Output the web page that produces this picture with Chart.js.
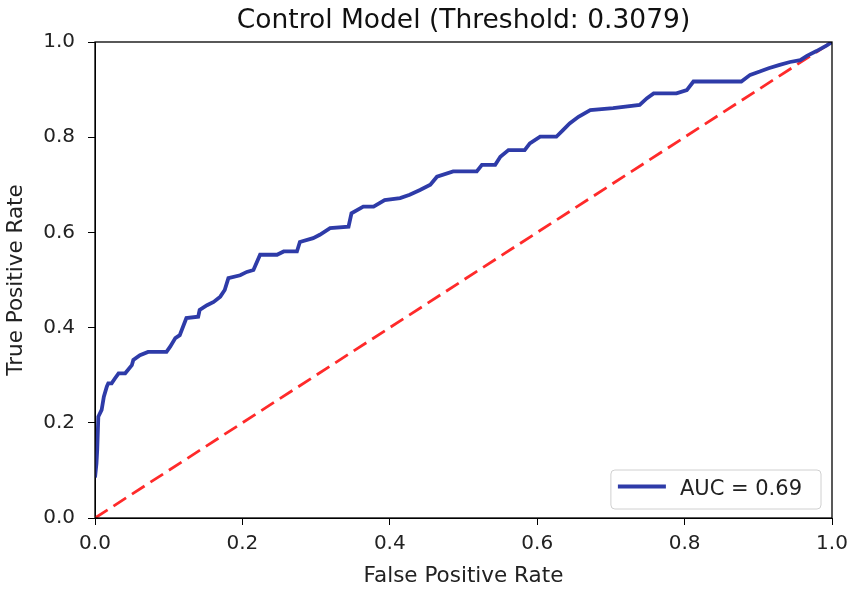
<!DOCTYPE html>
<html>
<head>
<meta charset="utf-8">
<script src="https://cdn.jsdelivr.net/npm/chart.js@4"></script>
<style>
  html, body { margin: 0; padding: 0; background: #fff; }
  #wrap { width: 849px; height: 593px; position: relative; }
</style>
</head>
<body>
<div id="wrap"><canvas id="c" width="849" height="593"></canvas></div>
<script>
// ---- data ----
const chartTitle = "Control Model (Threshold: 0.3079)";
const xLabel = "False Positive Rate";
const yLabel = "True Positive Rate";
const rocLabel = "AUC = 0.69";
const tickValues = [0.0, 0.2, 0.4, 0.6, 0.8, 1.0];

const fpr = [
  0.000, 0.002, 0.003, 0.0045, 0.009, 0.012, 0.016, 0.018, 0.0226, 0.027,
  0.032, 0.041, 0.050, 0.052, 0.061, 0.072, 0.097, 0.102, 0.109, 0.115,
  0.124, 0.140, 0.142, 0.152, 0.161, 0.170, 0.176, 0.181, 0.197, 0.206,
  0.215, 0.224, 0.247, 0.256, 0.274, 0.278, 0.296, 0.305, 0.319, 0.344,
  0.348, 0.364, 0.378, 0.393, 0.414, 0.427, 0.441, 0.455, 0.464, 0.486,
  0.518, 0.525, 0.543, 0.550, 0.561, 0.583, 0.590, 0.604, 0.626, 0.635,
  0.644, 0.656, 0.672, 0.703, 0.739, 0.749, 0.758, 0.789, 0.803, 0.812,
  0.877, 0.889, 0.902, 0.914, 0.929, 0.943, 0.957, 0.966, 0.979, 0.993,
  1.000
];
const tpr = [
  0.085, 0.115, 0.143, 0.213, 0.227, 0.255, 0.276, 0.283, 0.283, 0.293,
  0.304, 0.304, 0.321, 0.332, 0.342, 0.349, 0.349, 0.360, 0.378, 0.384,
  0.420, 0.423, 0.437, 0.447, 0.454, 0.465, 0.479, 0.504, 0.510, 0.517,
  0.521, 0.553, 0.553, 0.560, 0.560, 0.580, 0.588, 0.595, 0.609, 0.612,
  0.640, 0.654, 0.654, 0.668, 0.672, 0.679, 0.689, 0.700, 0.717, 0.728,
  0.728, 0.742, 0.742, 0.759, 0.773, 0.773, 0.787, 0.801, 0.801, 0.815,
  0.829, 0.843, 0.857, 0.861, 0.868, 0.882, 0.892, 0.892, 0.899, 0.917,
  0.917, 0.931, 0.938, 0.945, 0.952, 0.958, 0.962, 0.971, 0.981, 0.993,
  1.000
];
const chanceX = [0, 1];
const chanceY = [0, 1];

// ---- build datasets ----
const rocPoints = fpr.map((x, i) => ({ x: x, y: tpr[i] }));
const chancePoints = chanceX.map((x, i) => ({ x: x, y: chanceY[i] }));

const FONT = "'DejaVu Sans', 'Liberation Sans', sans-serif";

// frame (all four spines), title centred over the plot, in-plot legend
const framePlugin = {
  id: 'frame',
  afterDatasetsDraw(chart) {
    const { ctx, chartArea: a } = chart;
    ctx.save();
    ctx.strokeStyle = '#000';
    ctx.lineWidth = 1.3;
    ctx.strokeRect(a.left, a.top, a.right - a.left, a.bottom - a.top);
    ctx.restore();
  },
  afterDraw(chart) {
    const { ctx, chartArea: a } = chart;
    const ds = chart.data.datasets[0];
    ctx.save();
    // title
    ctx.font = "26.5px " + FONT;
    ctx.fillStyle = '#111';
    ctx.textAlign = 'center';
    ctx.textBaseline = 'middle';
    ctx.fillText(chartTitle, (a.left + a.right) / 2, a.top - 21);
    // legend
    ctx.font = "21px " + FONT;
    const tw = ctx.measureText(ds.label).width;
    const boxW = 15 + 48 + 15 + tw + 10;
    const boxH = 39;
    const bx = a.right - 11 - boxW;
    const by = a.bottom - 9 - boxH;
    const r = 4;
    ctx.beginPath();
    ctx.moveTo(bx + r, by);
    ctx.lineTo(bx + boxW - r, by);
    ctx.quadraticCurveTo(bx + boxW, by, bx + boxW, by + r);
    ctx.lineTo(bx + boxW, by + boxH - r);
    ctx.quadraticCurveTo(bx + boxW, by + boxH, bx + boxW - r, by + boxH);
    ctx.lineTo(bx + r, by + boxH);
    ctx.quadraticCurveTo(bx, by + boxH, bx, by + boxH - r);
    ctx.lineTo(bx, by + r);
    ctx.quadraticCurveTo(bx, by, bx + r, by);
    ctx.closePath();
    ctx.fillStyle = 'rgba(255,255,255,0.85)';
    ctx.fill();
    ctx.strokeStyle = '#d0d0d0';
    ctx.lineWidth = 1;
    ctx.stroke();
    const ly = by + boxH / 2 - 3;
    ctx.beginPath();
    ctx.moveTo(bx + 7, ly);
    ctx.lineTo(bx + 55, ly);
    ctx.strokeStyle = ds.borderColor;
    ctx.lineWidth = ds.borderWidth;
    ctx.stroke();
    ctx.fillStyle = '#222';
    ctx.textBaseline = 'middle';
    ctx.textAlign = 'left';
    ctx.fillText(ds.label, bx + 69, by + boxH / 2);
    ctx.restore();
  }
};

new Chart(document.getElementById('c'), {
  type: 'line',
  data: {
    datasets: [
      {
        label: rocLabel,
        data: rocPoints,
        borderColor: '#2e3ba8',
        borderWidth: 3.8,
        pointRadius: 0,
        tension: 0,
        fill: false
      },
      {
        label: 'chance',
        data: chancePoints,
        borderColor: '#ff2a2a',
        borderWidth: 2.8,
        borderDash: [15, 7],
        pointRadius: 0,
        fill: false
      }
    ]
  },
  options: {
    responsive: false,
    animation: false,
    devicePixelRatio: 1,
    layout: { padding: { left: 0, right: 17, top: 42, bottom: 0 } },
    plugins: {
      legend: { display: false },
      tooltip: { enabled: false },
      title: { display: false }
    },
    scales: {
      x: {
        type: 'linear',
        min: 0, max: 1,
        afterFit(scale) { scale.height = 75; scale.paddingRight = 0; scale.paddingLeft = 0; },
        afterBuildTicks(scale) { scale.ticks = tickValues.map(v => ({ value: v })); },
        grid: { display: true, drawOnChartArea: false, drawTicks: true, tickLength: 7, color: '#000', lineWidth: 1 },
        border: { display: true, color: '#000', width: 1 },
        ticks: {
          color: '#222',
          padding: 7,
          maxRotation: 0,
          font: { family: FONT, size: 20 },
          callback: v => Number(v).toFixed(1)
        },
        title: {
          display: true,
          text: xLabel,
          color: '#222',
          font: { family: FONT, size: 21.5 },
          padding: { top: 4, bottom: 4 }
        }
      },
      y: {
        type: 'linear',
        min: 0, max: 1,
        afterFit(scale) { scale.width = 95; scale.paddingTop = 0; scale.paddingBottom = 0; },
        afterBuildTicks(scale) { scale.ticks = tickValues.map(v => ({ value: v })); },
        grid: { display: true, drawOnChartArea: false, drawTicks: true, tickLength: 7, color: '#000', lineWidth: 1 },
        border: { display: true, color: '#000', width: 1 },
        ticks: {
          color: '#222',
          padding: 13,
          font: { family: FONT, size: 20 },
          callback: v => Number(v).toFixed(1)
        },
        title: {
          display: true,
          text: yLabel,
          color: '#222',
          font: { family: FONT, size: 21.5 },
          padding: { top: 4, bottom: 4 }
        }
      }
    }
  },
  plugins: [framePlugin]
});
</script>
</body>
</html>
